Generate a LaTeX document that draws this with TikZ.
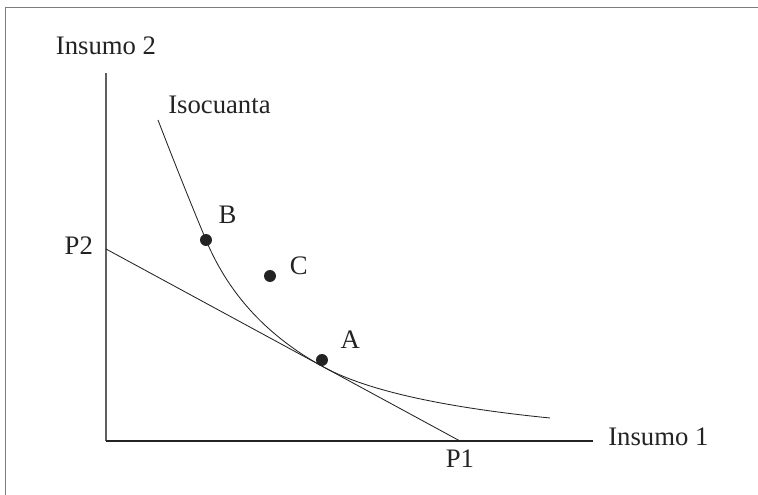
\documentclass[tikz,border=0pt]{standalone}
\usepackage{fontspec}
\setmainfont{Liberation Serif}
\usepackage{tikz}
\usetikzlibrary{positioning}
\definecolor{marcogris}{RGB}{125,125,125}
\definecolor{ejegris}{RGB}{95,95,95}
\definecolor{trazo}{RGB}{35,35,35}

\tikzset{
  etiqueta/.style={font=\fontsize{19}{22}\selectfont, text=trazo, inner sep=0pt},
  punto/.style={circle, fill=trazo, inner sep=0pt, minimum size=0.3cm},
  curva/.style={draw=trazo, line width=0.6pt}
}

\begin{document}
\begin{tikzpicture}
        \useasboundingbox (-2.65,-1.35) rectangle (16.3,11.025);
        % Frame
        \draw[marcogris, line width=1pt] (-2.5125,-1.35) |- (16.3,10.84);

        % Axes
        \coordinate (origen) at (0,0);
        \coordinate (ytop) at (0,9.2);
        \coordinate (xfin) at (12.175,0);
        \draw[ejegris, line width=0.8pt] (origen) -- (ytop);
        \draw[trazo, line width=0.8pt] (origen) -- (xfin);

        % Budget line
        \coordinate (P2) at (0,4.8);
        \coordinate (P1) at (8.85,0);
        \draw[curva] (P2) -- (P1);

        % Isoquant
        \coordinate (S) at (1.3,8.025);
        \coordinate (T) at (5.45,1.844);
        \coordinate (E) at (11.1,0.575);
        \draw[curva] (S) .. controls (1.7,6.985) and (2.1,5.985) .. (2.5,5.025)
                         .. controls (3.067,3.663) and (4.051,2.603) .. (T)
                         .. controls (6.511,1.269) and (8.394,0.846) .. (E);

        % Points
        \node[punto] (B) at (2.5,5.025) {};
        \node[punto] (C) at (4.1,4.125) {};
        \node[punto] (A) at (5.4,2.025) {};

        % Labels
        \node[etiqueta, above=0.45cm of ytop] (ins2) {Insumo 2};
        \node[etiqueta, right=0.375cm of xfin, yshift=0.1cm] (ins1) {Insumo 1};
        \node[etiqueta, left=0.32cm of P2, yshift=0.075cm] (p2lab) {P2};
        \node[etiqueta, below=0.22cm of P1] (p1lab) {P1};
        \node[etiqueta, above right=0.14cm and 0.25cm of S] (iso) {Isocuanta};
        \node[etiqueta, above right=0.28cm and 0.2cm of B] (blab) {B};
        \node[etiqueta, right=0.33cm of C, yshift=0.25cm] (clab) {C};
        \node[etiqueta, above right=0.18cm and 0.35cm of A] (alab) {A};
\end{tikzpicture}
\end{document}
